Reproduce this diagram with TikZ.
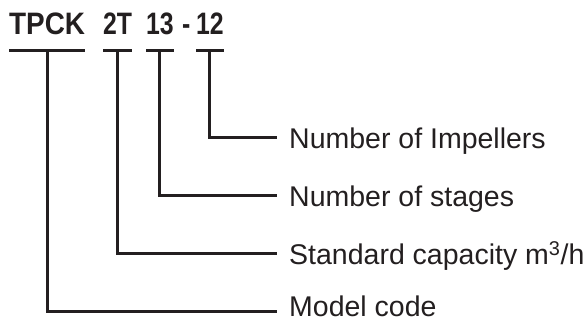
\documentclass[tikz,border=0pt]{standalone}
\usepackage{fontspec}
\setmainfont{Liberation Sans}
\newfontfamily\codefont[FakeStretch=0.9]{Liberation Sans}
\newfontfamily\numfont[FakeStretch=0.8]{Liberation Sans}
\definecolor{ink}{RGB}{35,31,32}

\begin{document}
\begin{tikzpicture}[x=1pt, y=-1pt,
    code/.style={font=\codefont\bfseries\fontsize{31}{36}\selectfont, text=ink,
        inner xsep=0pt, inner ysep=15pt, text depth=0pt, anchor=base west},
    num/.style={code, font=\numfont\bfseries\fontsize{31}{36}\selectfont},
    lbl/.style={font=\fontsize{28.5}{34}\selectfont, text=ink,
        inner xsep=12pt, inner ysep=0pt, text height=20.4pt, text depth=0pt, anchor=west},
    conn/.style={ink, line width=3pt}]
    \useasboundingbox (0,0) rectangle (587,320);

    % Model number
    \node[code] (tpck) at (9,35) {TPCK};
    \node[num] (n2t) at (103,35) {2T};
    \node[num] (n13) at (146,35) {13};
    \node[num] (dash) at (182,35) {-};
    \node[num] (n12) at (196,35) {12};

    % Underlines
    \foreach \n in {tpck,n2t,n13,n12}
        \draw[conn] (\n.south west) -- (\n.south east);

    % Labels
    \node[lbl] (imp) at (277,138) {Number of Impellers};
    \node[lbl] (stg) at (277,196) {Number of stages};
    \node[lbl] (cap) at (277,254) {Standard capacity m\textsuperscript{3}/h};
    \node[lbl] (mod) at (277,306.5) {Model code};

    % Connectors
    \draw[conn] (n12.south) |- (imp.west);
    \draw[conn] (n13.south) |- (stg.west);
    \draw[conn] (n2t.south) |- (cap.west);
    \draw[conn] (tpck.south) |- ([yshift=-5pt]mod.west);
\end{tikzpicture}
\end{document}
